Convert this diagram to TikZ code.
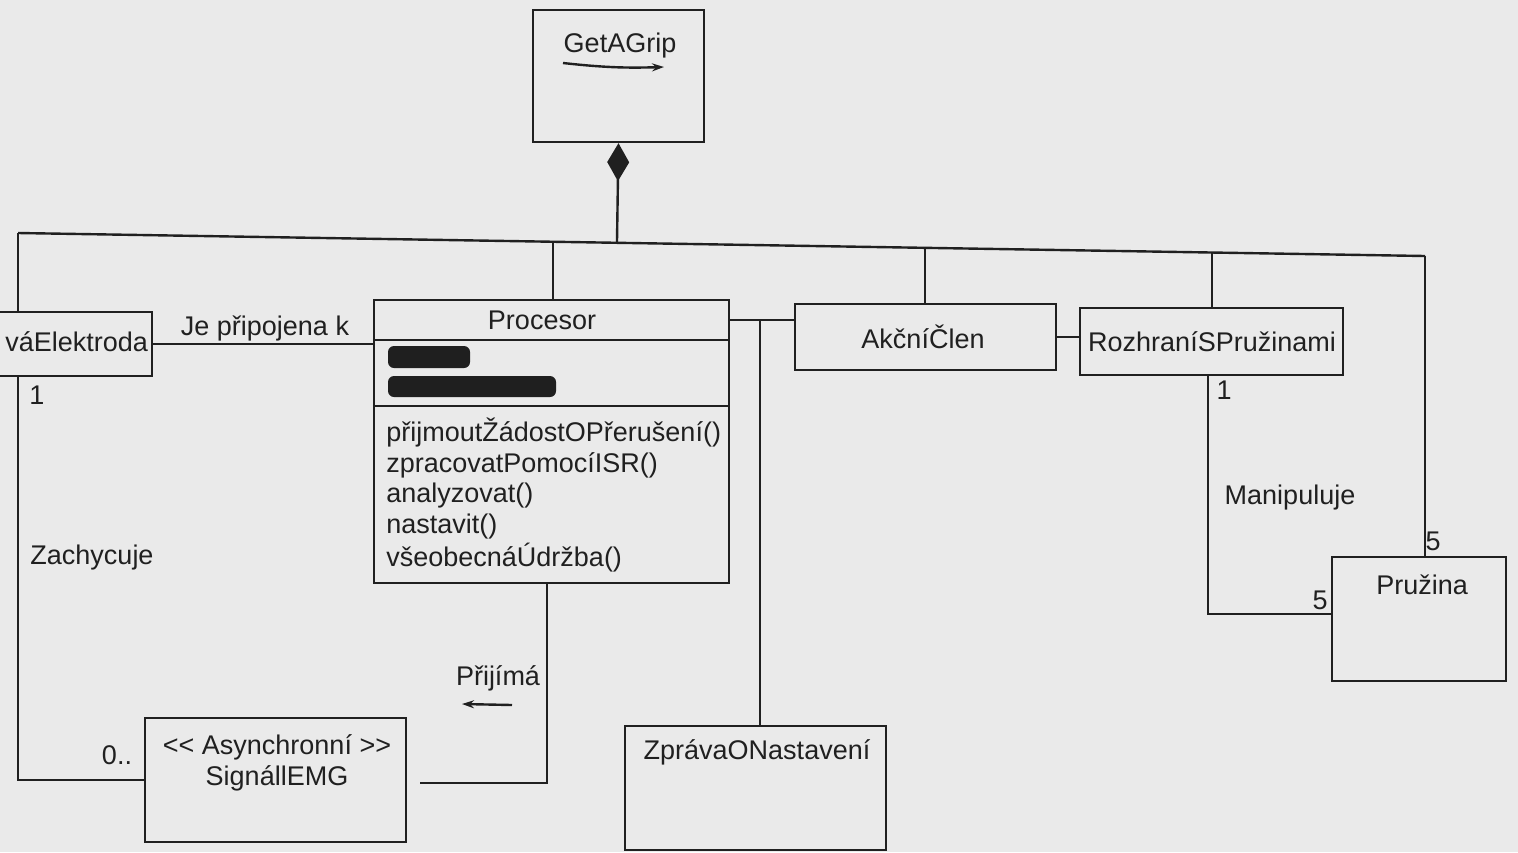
\documentclass[tikz,border=0pt]{standalone}
\usepackage{fontspec}
\setmainfont{Liberation Sans}
\usetikzlibrary{arrows.meta,calc}
\definecolor{bg}{RGB}{234,234,234}
\definecolor{ink}{RGB}{32,32,32}
\begin{document}
\begin{tikzpicture}[x=0.5pt,y=-0.5pt,
  box/.style={draw=ink,line width=1.2pt,fill=bg,inner sep=0pt},
  txt/.style={text=ink,inner sep=0pt,font=\fontsize{13.5}{15.5}\selectfont},
  conn/.style={draw=ink,line width=1.2pt},
  blob/.style={fill=black!88,rounded corners=3pt}]
\useasboundingbox (0,0) rectangle (1518,852);
\fill[bg] (0,0) rectangle (1518,852);
\clip (0,0) rectangle (1518,852);

% boxes
\node[box,minimum width=85.5pt,minimum height=66pt] (grip) at (618.5,76) {};
\node[txt] (gripT) at (620,46) {GetAGrip};
\draw[ink,line width=1.2pt,-{Stealth[length=6pt,width=4pt]}] (563,63) to[bend right=4] (664,67);

\node[box,minimum width=96pt,minimum height=32pt] (elek) at (56,344) {};
\node[txt,anchor=west] (elekT) at (5,342) {váElektroda};

\node[box,minimum width=177.5pt,minimum height=141.5pt] (proc) at (551.5,441.5) {};
\node[txt] (procT) at (542,320) {Procesor};
\draw[conn] (proc.west |- 0,340) -- (proc.east |- 0,340);
\draw[conn] (proc.west |- 0,406) -- (proc.east |- 0,406);
\fill[blob] (388,346) rectangle (470,368);
\fill[blob] (388,376) rectangle (556,397);
\node[txt,anchor=base west] (op1) at (386,441) {přijmoutŽádostOPřerušení()};
\node[txt,anchor=base west] (op2) at (386,472) {zpracovatPomocíISR()};
\node[txt,anchor=base west] (op3) at (386,502) {analyzovat()};
\node[txt,anchor=base west] (op4) at (386,533) {nastavit()};
\node[txt,anchor=base west] (op5) at (386,566) {všeobecnáÚdržba()};

\node[box,minimum width=130.5pt,minimum height=33pt] (akc) at (925.5,337) {};
\node[txt] (akcT) at (923,337) {AkčníČlen};

\node[box,minimum width=131.5pt,minimum height=33.5pt] (roz) at (1211.5,341.5) {};
\node[txt] (rozT) at (1212,342) {RozhraníSPružinami};

\node[box,minimum width=87pt,minimum height=62pt] (pruz) at (1419,619) {};
\node[txt] (pruzT) at (1422,585) {Pružina};

\node[box,minimum width=130.5pt,minimum height=62pt] (zpr) at (755.5,788) {};
\node[txt] (zprT) at (757,752) {ZprávaONastavení};

\node[box,minimum width=130.5pt,minimum height=62pt] (sig) at (275.5,780) {};
\node[txt,align=center] (sigT) at (277,763) {<{}< Asynchronní >{}>\\SignállEMG};

% composition bus
\coordinate (busL) at (18,233);
\coordinate (busR) at (1425,256);
\coordinate (b1) at ($(busL)!0.3802!(busR)$);
\coordinate (b2) at ($(busL)!0.4257!(busR)$);
\coordinate (b3) at ($(busL)!0.6446!(busR)$);
\coordinate (b4) at ($(busL)!0.8486!(busR)$);
\draw[conn] (busL) -- (busR);
\draw[conn,{Diamond[width=11pt,length=19pt]}-] (grip.south) -- (b2);
\draw[conn] (busL) -- (busL |- elek.north);
\draw[conn] (b1) -- (b1 |- proc.north);
\draw[conn] (b3) -- (b3 |- akc.north);
\draw[conn] (b4) -- (b4 |- roz.north);
\draw[conn] (busR) -- (busR |- pruz.north);

% associations
\draw[conn] (elek.south -| busL) |- (sig.west);
\draw[conn] (elek.east) -- (elek.east -| proc.west);
\coordinate (pa) at (proc.east |- 0,320);
\draw[conn] (pa) -- (pa -| akc.west);
\coordinate (pz) at (760,320);
\draw[conn] (pz) -- (pz |- zpr.north);
\draw[conn] (akc.east) -- (akc.east -| roz.west);
\coordinate (m) at (1208,614);
\draw[conn] (roz.south -| m) |- (pruz.west |- m);
\coordinate (pp) at (547,783);
\coordinate (pe) at (420,783);
\draw[conn] (proc.south -| pp) |- (pe);

% labels
\node[txt] (l1) at (265,328) {Je připojena k};
\node[txt] (l2) at (37,395) {1};
\node[txt] (l3) at (92,558) {Zachycuje};
\node[txt] (l4) at (117,755) {0..};
\node[txt] (l5) at (498,678) {Přijímá};
\draw[ink,line width=1.2pt,-{Stealth[length=6pt,width=4pt]}] (512,705) -- (462,704);
\node[txt] (l6) at (1224,390) {1};
\node[txt] (l7) at (1290,498) {Manipuluje};
\node[txt] (l8) at (1320,600) {5};
\node[txt] (l9) at (1433,541) {5};
\end{tikzpicture}
\end{document}
